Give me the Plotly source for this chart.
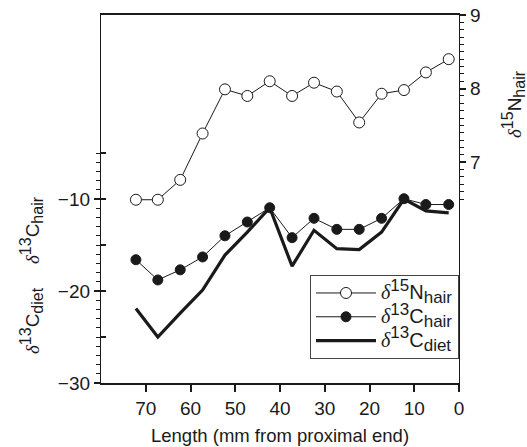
import plotly.graph_objects as go

# Data
length_mm = [72.2, 67.3, 62.3, 57.3, 52.3, 47.3, 42.3, 37.3, 32.4, 27.3, 22.3, 17.3, 12.3, 7.4, 2.3]
d15n_hair = [6.49, 6.49, 6.76, 7.39, 7.99, 7.90, 8.10, 7.90, 8.08, 7.96, 7.54, 7.93, 7.98, 8.22, 8.40]
d13c_hair = [-16.6, -18.8, -17.7, -16.3, -14.0, -12.5, -10.95, -14.2, -12.1, -13.3, -13.3, -12.1, -9.97, -10.6, -10.6]
d13c_diet = [-21.9, -25.0, -22.4, -19.9, -16.1, -13.6, -10.95, -17.3, -13.4, -15.4, -15.5, -13.6, -10.0, -11.3, -11.5]

x_ticks = [0, 10, 20, 30, 40, 50, 60, 70]
left_major = [-30, -25, -20, -15, -10, -5]
left_labels = ["−30", "", "−20", "", "−10", ""]
right_major = [6.5, 7, 7.5, 8, 8.5, 9]
right_labels = ["", "7", "", "8", "", "9"]
x_title = "Length (mm from proximal end)"

FONT = "Liberation Sans, Arial, sans-serif"
FS = 19


def label(iso, elem, sub, small, main=None):
    d = '<span style="font-family:Liberation Serif;font-style:italic">δ</span>'
    s = (d + '<sup><span style="font-size:%dpx">%s</span></sup>' % (small, iso) + elem +
         '<sub><span style="font-size:%dpx">%s</span></sub>' % (small, sub))
    if main:
        s = '<span style="font-size:%dpx">%s</span>' % (main, s)
    return s


ink = "#1a1a1a"
fig = go.Figure()
fig.add_trace(go.Scatter(x=length_mm, y=d13c_diet, name=label("13", "C", "diet", 17, 20), mode="lines",
                         line=dict(color=ink, width=3.2), legendrank=3))
fig.add_trace(go.Scatter(x=length_mm, y=d13c_hair, name=label("13", "C", "hair", 17, 20), mode="lines+markers",
                         line=dict(color=ink, width=1),
                         marker=dict(symbol="circle", size=10, color=ink,
                                     line=dict(color=ink, width=1)), legendrank=2))
fig.add_trace(go.Scatter(x=length_mm, y=d15n_hair, name=label("15", "N", "hair", 17, 20), mode="lines+markers",
                         yaxis="y2",
                         line=dict(color=ink, width=1),
                         marker=dict(symbol="circle", size=11, color="white",
                                     line=dict(color=ink, width=1)), legendrank=1))
# empty helper trace so the inside-tick axis is drawn
fig.add_trace(go.Scatter(x=[None], y=[None], yaxis="y3", showlegend=False, hoverinfo="skip"))

minor_left = [v for v in range(-30, -4)]
minor_right = [round(6.5 + 0.1 * i, 1) for i in range(26)]

fig.update_layout(
    template="none",
    width=527, height=447, autosize=False,
    margin=dict(l=101, r=68, t=15, b=64, pad=0),
    paper_bgcolor="white", plot_bgcolor="white",
    font=dict(family=FONT, size=FS, color=ink),
    showlegend=True,
    legend=dict(x=1, xanchor="right", y=0.065, yanchor="bottom",
                bgcolor="white", bordercolor="#444", borderwidth=1,
                font=dict(family=FONT, size=16, color=ink),
                tracegroupgap=0, itemwidth=60),
    xaxis=dict(range=[80, 0], tickmode="array", tickvals=x_ticks, automargin=False,
               ticks="outside", ticklen=7, tickwidth=1.5, tickcolor=ink,
               showline=True, linecolor=ink, linewidth=1.5, mirror=True,
               showgrid=False, zeroline=False,
               tickfont=dict(size=FS)),
    yaxis=dict(range=[-30, 10], tickmode="array", tickvals=left_major, ticktext=left_labels,
               automargin=False,
               ticks="outside", ticklen=6, tickwidth=1.5, tickcolor=ink,
               minor=dict(tickmode="array", tickvals=minor_left, ticks="outside",
                          ticklen=4, tickwidth=1, tickcolor=ink, showgrid=False),
               showline=True, linecolor=ink, linewidth=1.2,
               showgrid=False, zeroline=False, tickfont=dict(size=FS)),
    yaxis3=dict(range=[-30, 10], overlaying="y", side="left", tickmode="array",
                tickvals=left_major, showticklabels=False, automargin=False,
                ticks="inside", ticklen=5, tickwidth=1.5, tickcolor=ink,
                showline=False, showgrid=False, zeroline=False),
    yaxis2=dict(range=[4, 9], overlaying="y", side="right", tickmode="array",
                tickvals=right_major, ticktext=right_labels, automargin=False,
                ticks="outside", ticklen=6, tickwidth=1.5, tickcolor=ink,
                minor=dict(tickmode="array", tickvals=minor_right, ticks="outside",
                           ticklen=4, tickwidth=1, tickcolor=ink, showgrid=False),
                showline=True, linecolor=ink, linewidth=1.2,
                showgrid=False, zeroline=False, tickfont=dict(size=FS)),
)

fig.add_annotation(text=x_title, xref="paper", yref="paper",
                   x=0.5, y=(383 - 435) / 368, showarrow=False,
                   xanchor="center", yanchor="middle",
                   font=dict(size=18.5, family=FONT, color=ink))
fig.add_annotation(text=label("13", "C", "hair", 16), textangle=-90, xref="paper", yref="paper",
                   x=(31 - 101) / 358, y=(383 - 230) / 368, showarrow=False,
                   xanchor="center", yanchor="middle",
                   font=dict(size=FS, family=FONT, color=ink))
fig.add_annotation(text=label("13", "C", "diet", 16), textangle=-90, xref="paper", yref="paper",
                   x=(31 - 101) / 358, y=(383 - 321) / 368, showarrow=False,
                   xanchor="center", yanchor="middle",
                   font=dict(size=FS, family=FONT, color=ink))
fig.add_annotation(text=label("15", "N", "hair", 16), textangle=-90, xref="paper", yref="paper",
                   x=(513 - 101) / 358, y=(383 - 104) / 368, showarrow=False,
                   xanchor="center", yanchor="middle",
                   font=dict(size=FS, family=FONT, color=ink))

fig.write_html("out.html", config={"displayModeBar": False},
               post_script="document.body.style.margin='0';")
